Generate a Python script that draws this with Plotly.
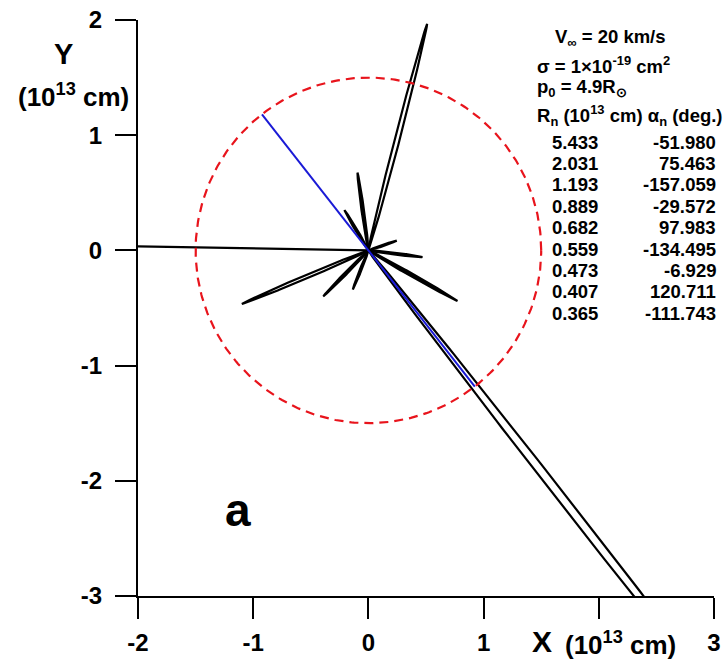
import numpy as np
import plotly.graph_objects as go

# ---------------- data ----------------
R_n = [5.433, 2.031, 1.193, 0.889, 0.682, 0.559, 0.473, 0.407, 0.365]
alpha_n = [-51.980, 75.463, -157.059, -29.572, 97.983, -134.495, -6.929, 120.711, -111.743]
# small extra petal visible in the figure but not listed in the table
R_extra = [0.26]
alpha_extra = [19.0]
# incoming trajectory (from the left edge to the origin)
incoming_x = [-2.0, 0.0]
incoming_y = [0.035, 0.0]
circle_radius = 1.5

x_ticks = [-2, -1, 0, 1, 2, 3]
x_ticklabels = ["-2", "-1", "0", "1", "", "3"]
y_ticks = [-3, -2, -1, 0, 1, 2]
y_ticklabels = ["-3", "-2", "-1", "0", "1", "2"]

W, H = 724, 663
ML, MR, MT, MB = 138, 10, 20, 67
PW, PH = W - ML - MR, H - MT - MB

FONT = "Liberation Sans, Arial, sans-serif"


def px(xp):
    return (xp - ML) / PW


def py(yp):
    return (MT + PH - yp) / PH


def petal(R, a_deg, n=80):
    a = np.radians(a_deg)
    w = 0.014 * R ** 0.6
    t = np.linspace(0, 1, n)
    h = w * np.sin(np.pi * t) ** 0.6
    r = t * R
    ux, uy = np.cos(a), np.sin(a)
    vx, vy = -uy, ux
    xs = np.concatenate([r * ux + h * vx, (r * ux - h * vx)[::-1]])
    ys = np.concatenate([r * uy + h * vy, (r * uy - h * vy)[::-1]])
    return xs, ys


fig = go.Figure()

# incoming line
fig.add_trace(go.Scatter(x=incoming_x, y=incoming_y, mode="lines",
                         line=dict(color="black", width=2.2), hoverinfo="skip"))

# petals
for R, a in list(zip(R_n, alpha_n)) + list(zip(R_extra, alpha_extra)):
    xs, ys = petal(R, a)
    fig.add_trace(go.Scatter(x=xs, y=ys, mode="lines",
                             fill="toself" if R < 1.0 else "none", fillcolor="black",
                             line=dict(color="black", width=2.2), hoverinfo="skip"))

# dashed circle
th = np.linspace(0, 2 * np.pi, 400)
fig.add_trace(go.Scatter(x=circle_radius * np.cos(th), y=circle_radius * np.sin(th),
                         mode="lines", line=dict(color="#e8141c", width=2.2, dash="9px,6px"),
                         hoverinfo="skip"))

# blue line along the first direction, across the circle
a1 = np.radians(alpha_n[0])
fig.add_trace(go.Scatter(x=[-circle_radius * np.cos(a1), circle_radius * np.cos(a1)],
                         y=[-circle_radius * np.sin(a1), circle_radius * np.sin(a1)],
                         mode="lines", line=dict(color="#1a1ad6", width=2), hoverinfo="skip"))

axis_common = dict(showgrid=False, zeroline=False, showline=True, linecolor="black",
                   linewidth=2, ticks="outside", ticklen=21, tickwidth=2, tickcolor="black",
                   tickfont=dict(family=FONT, size=24, color="black", weight="bold"),
                   mirror=False, automargin=False)

fig.update_layout(
    width=W, height=H, margin=dict(l=ML, r=MR, t=MT, b=MB),
    paper_bgcolor="white", plot_bgcolor="white", showlegend=False,
    xaxis=dict(range=[-2, 3], tickvals=x_ticks, ticktext=x_ticklabels,
               ticklabelstandoff=3, **axis_common),
    yaxis=dict(range=[-3, 2], tickvals=y_ticks, ticktext=y_ticklabels,
               ticklabelstandoff=8, **axis_common),
)

ann = []


def add_text(text, xp, yp, size, xanchor="left", bold=True):
    ann.append(dict(text=text, x=px(xp), y=py(yp), xref="paper", yref="paper",
                    xanchor=xanchor, yanchor="middle", showarrow=False,
                    font=dict(family=FONT, size=size, color="black",
                              weight="bold" if bold else "normal")))


# axis titles
add_text("Y", 63, 54, 29, xanchor="center")
add_text("(10<sup>13</sup> cm)", 73, 95, 26, xanchor="center")
add_text("X", 542, 641, 30, xanchor="center")
add_text("(10<sup>13</sup> cm)", 620, 643, 26, xanchor="center")

# panel label
add_text("a", 238, 510, 46, xanchor="center")

# parameter block
add_text("V<sub>∞</sub> = 20 km/s", 553, 38, 18.5)
add_text("σ = 1×10<sup>-19</sup> cm<sup>2</sup>", 535, 65, 18.5)
add_text("p<sub>0</sub> = 4.9R<sub>⊙</sub>", 535, 88, 18.5)
add_text("R<sub>n</sub> (10<sup>13</sup> cm) α<sub>n</sub> (deg.)", 535, 115, 18.5)

row0, dy = 142, 21.4
for i, (R, a) in enumerate(zip(R_n, alpha_n)):
    add_text(f"{R:.3f}", 550, row0 + i * dy, 18.5)
    add_text(f"{a:.3f}", 718, row0 + i * dy, 18.5, xanchor="right")

fig.update_layout(annotations=ann)

fig.write_html("out.html")
